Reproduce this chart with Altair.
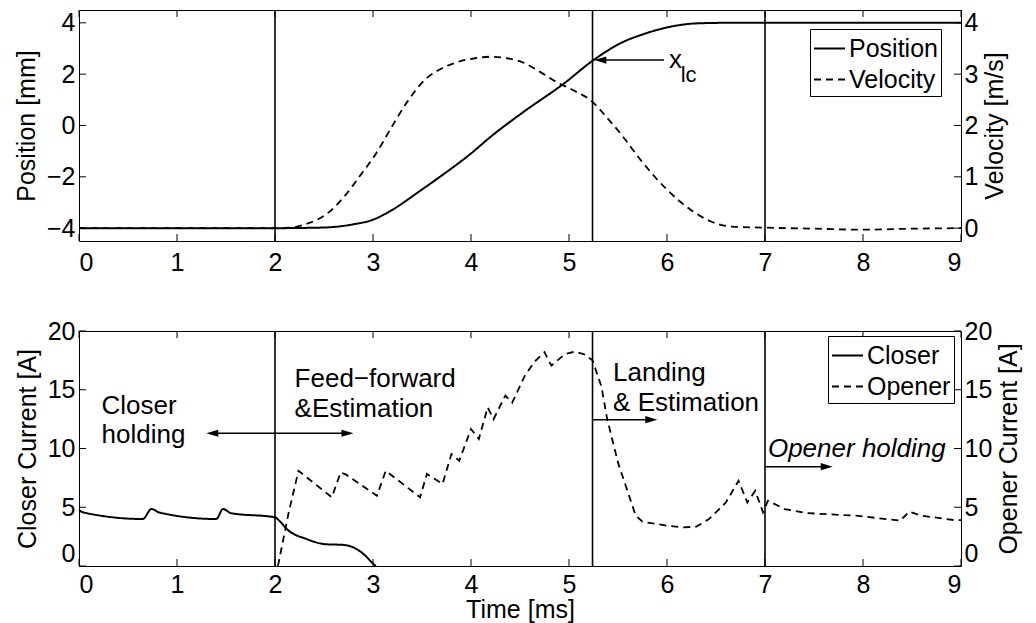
import altair as alt
import pandas as pd

FONT = "Liberation Sans"
W, H_TOP, H_BOT = 882, 231, 235
TICK = 7  # inward tick length in px

time_ticks = [0, 1, 2, 3, 4, 5, 6, 7, 8, 9]
phase_times = [2.0, 5.24, 7.0]  # ms: feed-forward start, landing, opener holding

# ---- upper panel: armature position [mm] and velocity [m/s] ----
pos_t = [0.0, 2.0, 2.3, 2.53, 2.8, 3.0, 3.19, 3.49, 3.73, 4.0, 4.2, 4.54, 4.95,
         5.24, 5.56, 5.73, 6.0, 6.31, 6.6, 9.0]
pos_mm = [-4.0, -4.0, -3.99, -3.97, -3.85, -3.67, -3.3, -2.52, -1.87, -1.09, -0.44,
          0.54, 1.64, 2.52, 3.27, 3.52, 3.82, 3.98, 4.0, 4.0]
vel_t = [0.0, 2.0, 2.2, 2.3, 2.53, 2.7, 2.86, 3.03, 3.19, 3.36, 3.53, 3.7, 3.87,
         4.04, 4.2, 4.37, 4.54, 4.7, 4.87, 5.04, 5.24, 5.38, 5.54, 5.73, 6.0, 6.24,
         6.45, 6.66, 7.0, 7.5, 8.0, 8.5, 9.0]
vel_ms = [0.0, 0.0, 0.02, 0.07, 0.28, 0.6, 1.0, 1.45, 1.97, 2.49, 2.89, 3.11, 3.24,
          3.31, 3.34, 3.31, 3.22, 3.05, 2.85, 2.69, 2.46, 2.17, 1.81, 1.33, 0.75, 0.36,
          0.13, 0.03, 0.01, -0.01, -0.03, -0.01, 0.0]
pos_ticks = [-4, -2, 0, 2, 4]
vel_ticks = [0, 1, 2, 3, 4]
pos_domain = [-4.5, 4.5]
vel_domain = [-0.25, 4.25]

# landing-position marker x_lc
xlc_arrow_from = [5.97]
xlc_arrow_to = [5.32]
xlc_level = [2.55]
xlc_text = ["x", "lc"]
xlc_text_t = [6.02, 6.14]
xlc_text_y = [2.24, 1.70]
xlc_text_size = [26, 22]

# ---- lower panel: coil currents [A] ----
closer_t = [0.0, 0.05, 0.65, 0.74, 0.82, 1.4, 1.47, 1.55, 2.0, 2.05, 2.12, 2.32,
            2.52, 2.69, 2.82, 2.92, 3.0, 3.03]
closer_a = [4.75, 4.55, 4.0, 4.85, 4.55, 4.0, 4.85, 4.5, 4.14, 3.8, 3.15, 2.3,
            1.85, 1.8, 1.5, 0.9, 0.2, 0.0]
opener_t = [2.03, 2.14, 2.24, 2.58, 2.67, 2.72, 3.04, 3.13, 3.48, 3.55, 3.71, 3.8,
            3.88, 4.0, 4.08, 4.17, 4.23, 4.35, 4.42, 4.55, 4.65, 4.75, 4.82, 4.96,
            5.06, 5.16, 5.24, 5.33, 5.39, 5.5, 5.6, 5.68, 5.75, 6.0, 6.17, 6.3, 6.43,
            6.6, 6.73, 6.82, 6.9, 6.98, 7.03, 7.2, 7.43, 7.93, 8.38, 8.47, 8.6, 8.93, 9.0]
opener_a = [0.0, 4.57, 8.1, 5.85, 7.97, 7.8, 5.98, 8.1, 5.85, 7.83, 6.98, 9.53,
            8.96, 11.66, 10.8, 13.5, 12.5, 14.5, 13.9, 16.2, 17.4, 18.2, 17.05, 18.04,
            18.24, 18.0, 17.5, 15.3, 12.5, 8.8, 6.3, 4.3, 3.77, 3.43, 3.29, 3.35, 4.0,
            5.4, 7.26, 5.4, 6.4, 4.57, 5.56, 4.85, 4.5, 4.28, 3.86, 4.62, 4.28, 3.91, 3.9]
cur_ticks = [0, 5, 10, 15, 20]
cur_domain = [0, 20]

# phase annotations (text anchored at left/baseline)
note_text = ["Closer", "holding", "Feed\u2212forward", "&Estimation", "Landing", "& Estimation"]
note_t = [0.23, 0.23, 2.2, 2.2, 5.45, 5.45]
note_a = [12.94, 10.47, 15.23, 12.68, 15.77, 13.2]
italic_text = ["Opener holding"]
italic_t = [7.03]
italic_a = [9.25]

# arrows: shaft from/to, level, and arrowheads
arrow_from = [1.36, 5.24, 7.0]
arrow_to = [2.74, 5.84, 7.63]
arrow_level = [11.3, 12.45, 8.45]
head_right_t = [2.74, 5.84, 7.63]
head_right_a = [11.3, 12.45, 8.45]
head_left_t = [1.36]
head_left_a = [11.3]

HEAD_RIGHT = "M1,0 L-1,-0.6 L-1,0.6 Z"
HEAD_LEFT = "M-1,0 L1,-0.6 L1,0.6 Z"

xscale = alt.Scale(domain=[0, 9], nice=False, zero=False)


def make_xaxis(title=None, label_pad=9, title_pad=0):
    return alt.Axis(values=time_ticks, format="d", title=title, labelPadding=label_pad,
                    ticks=False, domain=False, grid=False, titlePadding=title_pad)


def make_yaxis(values, title, side, zero_bottom=False):
    kw = dict(values=values, format="d", title=title, ticks=False, domain=False, grid=False,
              titleAngle=270)
    if side == "left":
        kw.update(orient="left", titlePadding=7, labelPadding=4, titleBaseline="bottom")
    else:
        kw.update(orient="right", titlePadding=5, labelPadding=3, titleBaseline="top")
    if zero_bottom:
        kw["labelBaseline"] = {"condition": {"test": "datum.value === 0", "value": "bottom"},
                               "value": "middle"}
    return alt.Axis(**kw)


def legend(x, y):
    return alt.Legend(title=None, orient="none", legendX=x, legendY=y, direction="vertical",
                      symbolType="stroke", symbolSize=961, symbolStrokeWidth=2,
                      symbolStrokeColor="black", labelFont=FONT, labelFontSize=25,
                      labelColor="black", labelOffset=3, strokeColor="black",
                      fillColor="white", padding=3, rowPadding=1)


def panel(height, xaxis, left_y, right_y, left_layers, right_layers,
          left_ticks, right_ticks):
    """left_y / right_y: (scale, axis) for the two independent y scales."""
    X = lambda: alt.X("t:Q", scale=xscale, axis=xaxis)
    LY = lambda: alt.Y("val:Q", scale=left_y[0], axis=left_y[1])
    RY = lambda: alt.Y("val:Q", scale=right_y[0], axis=right_y[1])
    xt = pd.DataFrame({"t": time_ticks})
    rule = dict(color="black", strokeWidth=1)
    L = [lay(X, LY) for lay in left_layers]
    L += [
        alt.Chart(pd.DataFrame({"t": phase_times})).mark_rule(color="black", strokeWidth=1.6)
        .encode(x=X()),
        alt.Chart(xt).mark_rule(**rule).encode(x=X(), y=alt.value(0), y2=alt.value(TICK)),
        alt.Chart(xt).mark_rule(**rule).encode(x=X(), y=alt.value(height),
                                               y2=alt.value(height - TICK)),
        alt.Chart(pd.DataFrame({"val": left_ticks})).mark_rule(**rule)
        .encode(y=LY(), x=alt.value(0), x2=alt.value(TICK)),
    ]
    R = [lay(X, RY) for lay in right_layers]
    R += [
        alt.Chart(pd.DataFrame({"val": right_ticks})).mark_rule(**rule)
        .encode(y=RY(), x=alt.value(W), x2=alt.value(W - TICK)),
    ]
    return alt.layer(alt.layer(*L), alt.layer(*R)).resolve_scale(y="independent").properties(
        width=W, height=height)


def line_layer(df, dash_scale, leg, width, interp):
    def build(X, Y):
        return alt.Chart(df).mark_line(color="black", strokeWidth=width, interpolate=interp).encode(
            x=X(), y=Y(), strokeDash=alt.StrokeDash("series:N", scale=dash_scale, legend=leg))
    return build


def arrow_layers(frm, to, lvl, rt, ra, lt, la):
    out = []

    def shafts(X, Y):
        return alt.Chart(pd.DataFrame({"t": frm, "t2": to, "val": lvl})).mark_rule(
            color="black", strokeWidth=1.6).encode(x=X(), x2="t2:Q", y=Y())
    out.append(shafts)
    for ts, vs, shape in ((rt, ra, HEAD_RIGHT), (lt, la, HEAD_LEFT)):
        if ts:
            def heads(X, Y, ts=ts, vs=vs, shape=shape):
                return alt.Chart(pd.DataFrame({"t": ts, "val": vs})).mark_point(
                    shape=shape, size=144, filled=True, color="black", opacity=1).encode(
                    x=X(), y=Y())
            out.append(heads)
    return out


def text_layer(texts, ts, vs, sizes=None, italic=False):
    def build(X, Y):
        df = pd.DataFrame({"t": ts, "val": vs, "label": texts})
        kw = dict(align="left", baseline="alphabetic", font=FONT, color="black")
        if italic:
            kw["fontStyle"] = "italic"
        if sizes is None:
            kw["fontSize"] = 26
            return alt.Chart(df).mark_text(**kw).encode(x=X(), y=Y(), text="label:N")
        df["size"] = sizes
        return alt.Chart(df).mark_text(**kw).encode(
            x=X(), y=Y(), text="label:N", size=alt.Size("size:Q", scale=None, legend=None))
    return build


# ================= upper panel =================
dash_top = alt.Scale(domain=["Position", "Velocity"], range=[[1, 0], [7, 5]])
leg_top = legend(731, 19)
top = panel(
    H_TOP, make_xaxis(),
    (alt.Scale(domain=pos_domain, nice=False, zero=False), make_yaxis(pos_ticks, "Position [mm]", "left")),
    (alt.Scale(domain=vel_domain, nice=False, zero=False), make_yaxis(vel_ticks, "Velocity [m/s]", "right")),
    [line_layer(pd.DataFrame({"t": pos_t, "val": pos_mm, "series": "Position"}),
                dash_top, leg_top, 2, "monotone"),
     *arrow_layers(xlc_arrow_from, xlc_arrow_to, xlc_level, [], [], xlc_arrow_to, xlc_level),
     text_layer(xlc_text, xlc_text_t, xlc_text_y, sizes=xlc_text_size)],
    [line_layer(pd.DataFrame({"t": vel_t, "val": vel_ms, "series": "Velocity"}),
                dash_top, leg_top, 1.8, "monotone")],
    pos_ticks, vel_ticks,
)

# ================= lower panel =================
dash_bot = alt.Scale(domain=["Closer", "Opener"], range=[[1, 0], [7, 5]])
leg_bot = legend(749, 5)
cur_scale = alt.Scale(domain=cur_domain, nice=False, zero=False)
bottom = panel(
    H_BOT, make_xaxis("Time [ms]", label_pad=6, title_pad=0),
    (cur_scale, make_yaxis(cur_ticks, "Closer Current [A]", "left", zero_bottom=True)),
    (cur_scale, make_yaxis(cur_ticks, "Opener Current [A]", "right", zero_bottom=True)),
    [line_layer(pd.DataFrame({"t": closer_t, "val": closer_a, "series": "Closer"}),
                dash_bot, leg_bot, 2, "monotone"),
     *arrow_layers(arrow_from, arrow_to, arrow_level, head_right_t, head_right_a,
                   head_left_t, head_left_a),
     text_layer(note_text, note_t, note_a),
     text_layer(italic_text, italic_t, italic_a, italic=True)],
    [line_layer(pd.DataFrame({"t": opener_t, "val": opener_a, "series": "Opener"}),
                dash_bot, leg_bot, 1.8, "linear")],
    cur_ticks, cur_ticks,
)

chart = alt.vconcat(top, bottom, spacing=42).resolve_scale(
    strokeDash="independent"
).resolve_legend(strokeDash="independent").properties(
    padding={"left": 13, "top": 8, "right": 5, "bottom": 0},
    background="white",
).configure_view(stroke="black", strokeWidth=1).configure_axis(
    labelFont=FONT, labelFontSize=25, labelColor="black",
    titleFont=FONT, titleFontSize=25, titleColor="black", titleFontWeight="normal",
)

chart.save("out.html", embed_options={"renderer": "svg", "actions": False})
